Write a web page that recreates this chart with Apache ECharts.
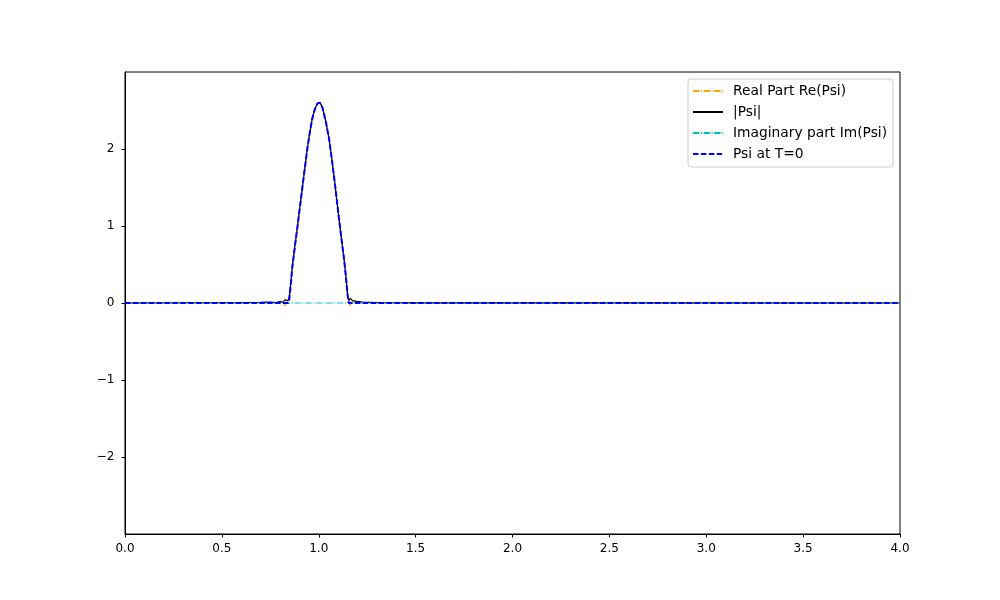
<!DOCTYPE html>
<html>
<head>
<meta charset="utf-8">
<script src="https://cdn.jsdelivr.net/npm/echarts@6/dist/echarts.min.js"></script>
<style>html,body{margin:0;padding:0;background:#fff}#c{width:1000px;height:600px}</style>
</head>
<body>
<div id="c"></div>
<script>
// x positions
const xs     = [0, 0.3, 0.6, 0.7, 0.75, 0.78, 0.8, 0.815, 0.826, 0.835, 0.842, 0.848, 0.856, 0.863, 0.876, 0.889, 0.902, 0.915, 0.928, 0.941, 0.954, 0.967, 0.98, 0.993, 1.0, 1.007, 1.02, 1.037, 1.054, 1.067, 1.08, 1.093, 1.106, 1.119, 1.132, 1.141, 1.149, 1.155, 1.162, 1.168, 1.175, 1.185, 1.195, 1.21, 1.23, 1.26, 1.3, 1.6, 2.5, 4.0];
// Psi at T=0
const psiT0  = [0, 0, 0, 0, 0, 0, 0, 0, 0, 0, 0, 0.05, 0.25, 0.45, 0.72, 0.97, 1.23, 1.49, 1.75, 2.0, 2.22, 2.4, 2.52, 2.59, 2.61, 2.6, 2.53, 2.35, 2.12, 1.88, 1.62, 1.34, 1.06, 0.8, 0.54, 0.32, 0.1, 0, 0, 0, 0, 0, 0, 0, 0, 0, 0, 0, 0, 0];
// |Psi|
const psiAbs = [0, 0.003, 0.005, 0.008, 0.012, 0.006, 0.018, 0.012, 0.04, 0.05, 0.03, 0.08, 0.27, 0.46, 0.72, 0.97, 1.23, 1.49, 1.75, 2.01, 2.22, 2.4, 2.52, 2.59, 2.61, 2.6, 2.53, 2.35, 2.12, 1.88, 1.62, 1.34, 1.06, 0.8, 0.54, 0.32, 0.1, 0.03, 0.06, 0.05, 0.03, 0.035, 0.02, 0.018, 0.01, 0.008, 0.005, 0.002, 0.001, 0];
// Re(Psi)
const psiRe  = [0, 0.003, 0.005, 0.008, 0.01, 0.004, 0.015, 0.005, -0.04, 0.0, 0.02, 0.07, 0.26, 0.46, 0.72, 0.97, 1.23, 1.49, 1.75, 2.01, 2.22, 2.4, 2.52, 2.59, 2.61, 2.6, 2.53, 2.35, 2.12, 1.88, 1.62, 1.34, 1.06, 0.8, 0.54, 0.32, 0.1, 0.0, -0.04, 0.02, 0.03, 0.02, 0.015, 0.012, 0.008, 0.006, 0.004, 0.002, 0.001, 0];
// Im(Psi)
const psiIm  = [0, 0, 0, 0, 0, 0, 0, 0, 0, 0, 0, 0, 0, 0, 0, 0, 0, 0, 0, 0, 0, 0, 0, 0, 0, 0, 0, 0, 0, 0, 0, 0, 0, 0, 0, 0, 0, 0, 0, 0, 0, 0, 0, 0, 0, 0, 0, 0, 0, 0];
const names  = ['Real Part Re(Psi)', '|Psi|', 'Imaginary part Im(Psi)', 'Psi at T=0'];

const pairs = ys => xs.map((x, i) => [x, ys[i]]);
const font = 'DejaVu Sans';
const chart = echarts.init(document.getElementById('c'), null, {renderer: 'canvas'});
chart.setOption({
  animation: false,
  backgroundColor: '#fff',
  grid: {left: 125, right: 100, top: 72, bottom: 66, show: true, borderColor: '#000', borderWidth: 1, containLabel: false},
  xAxis: {
    type: 'value', min: 0, max: 4, interval: 0.5,
    axisLine: {show: true, onZero: false, lineStyle: {color: '#000', width: 1}},
    axisTick: {show: true, length: 3.5, lineStyle: {color: '#000'}},
    axisLabel: {color: '#000', fontFamily: font, fontSize: 12, margin: 8.5, formatter: v => v.toFixed(1)},
    splitLine: {show: false}
  },
  yAxis: {
    type: 'value', min: -3, max: 3, interval: 1,
    axisLine: {show: true, onZero: false, lineStyle: {color: '#000', width: 1}},
    axisTick: {show: true, length: 3.5, lineStyle: {color: '#000'}},
    axisLabel: {color: '#000', fontFamily: font, fontSize: 12, margin: 10.5, showMinLabel: false, showMaxLabel: false,
      formatter: v => v < 0 ? '\u2212' + (-v) : String(v)},
    splitLine: {show: false}
  },
  legend: {
    orient: 'vertical', left: 688, top: 79,
    itemWidth: 30, itemHeight: 14, itemGap: 7,
    padding: [5, 6, 6, 4],
    backgroundColor: '#fff', borderColor: '#cccccc', borderWidth: 1, borderRadius: 3,
    itemStyle: {opacity: 0},
    textStyle: {color: '#000', fontFamily: font, fontSize: 13.8, padding: [0, 0, 0, 5]},
    data: names
  },
  series: [
    {name: names[0], type: 'line', data: pairs(psiRe), symbol: 'none', showSymbol: false, z: 2,
     lineStyle: {color: '#ffa500', width: 1, type: [6.4, 1.6, 1, 1.6]}, itemStyle: {color: '#ffa500'}},
    {name: names[1], type: 'line', data: pairs(psiAbs), symbol: 'none', showSymbol: false, z: 3,
     lineStyle: {color: '#000000', width: 1.2, type: 'solid'}, itemStyle: {color: '#000000'}},
    {name: names[2], type: 'line', data: pairs(psiIm), symbol: 'none', showSymbol: false, z: 4,
     lineStyle: {color: '#00bfbf', width: 1, type: [6.4, 1.6, 1, 1.6]}, itemStyle: {color: '#00bfbf'}},
    {name: names[3], type: 'line', data: pairs(psiT0), symbol: 'none', showSymbol: false, z: 5,
     lineStyle: {color: '#0000ff', width: 2, type: [5.5, 2.4]}, itemStyle: {color: '#0000ff'}}
  ]
});
</script>
</body>
</html>
